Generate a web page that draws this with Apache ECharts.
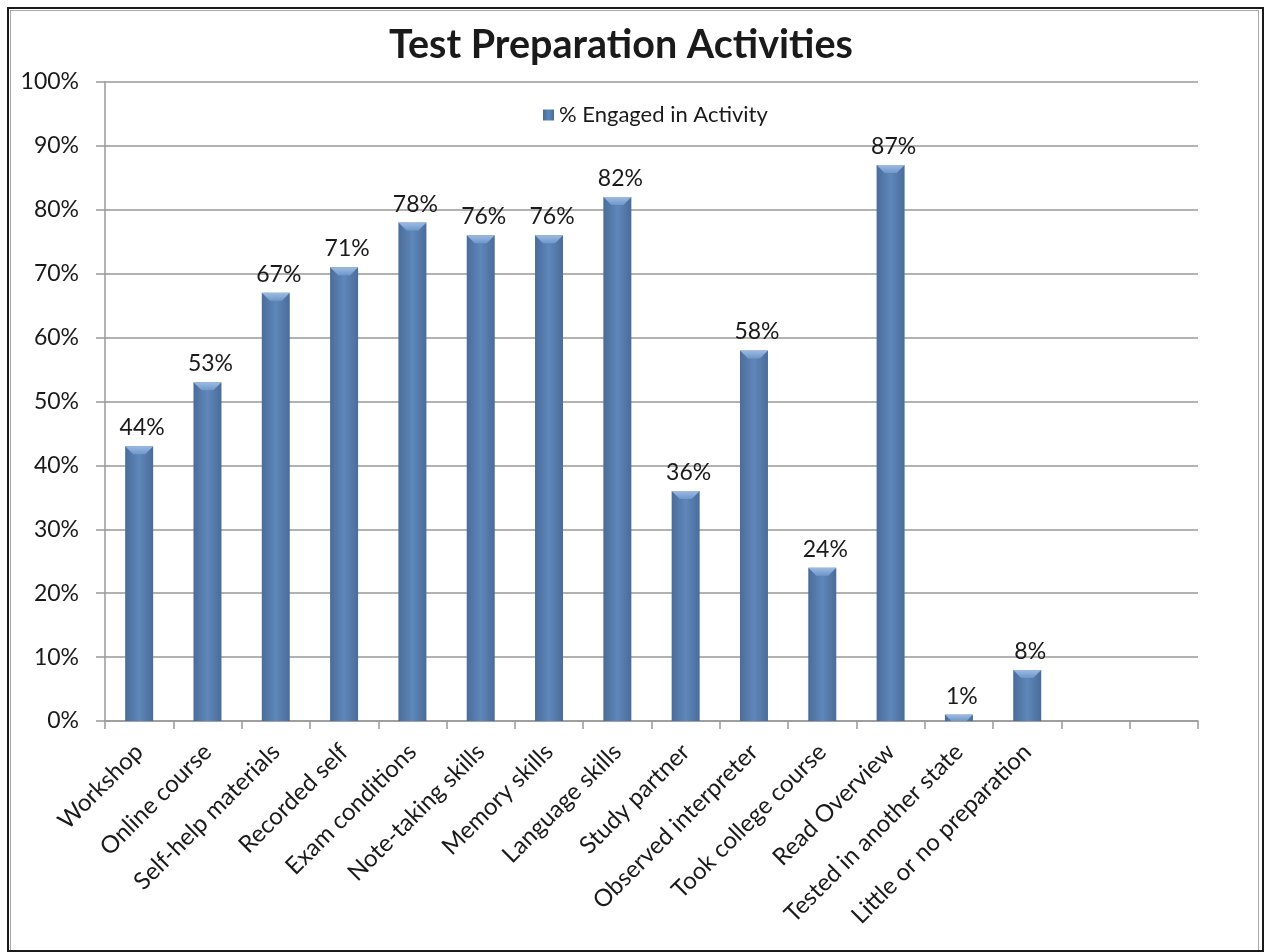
<!DOCTYPE html>
<html>
<head>
<meta charset="utf-8">
<script src="https://cdn.jsdelivr.net/npm/echarts@6/dist/echarts.min.js"></script>
<style>
html,body{margin:0;padding:0;background:#fff;}
#chart{position:absolute;left:0;top:0;width:1265px;height:952px;}
#frame{position:absolute;left:7px;top:7px;width:1253px;height:941px;border:2px solid #1a1a1a;pointer-events:none;}
#frame2{position:absolute;left:10px;top:10px;width:1247px;height:939px;border:1px solid #aaa;border-bottom:none;pointer-events:none;}
</style>
</head>
<body>
<div id="chart"></div>
<div id="frame"></div>
<div id="frame2"></div>
<script>
const categories = ['Workshop','Online course','Self-help materials','Recorded self','Exam conditions','Note-taking skills','Memory skills','Language skills','Study partner','Observed interpreter','Took college course','Read Overview','Tested in another state','Little or no preparation','',''];
const barValues = [43,53,67,71,78,76,76,82,36,58,24,87,1,8,null,null];
const labelTexts = ['44%','53%','67%','71%','78%','76%','76%','82%','36%','58%','24%','87%','1%','8%','',''];
const yTicks = [0,10,20,30,40,50,60,70,80,90,100];
const seriesName = '% Engaged in Activity';

const FONT = 'Lato, "Open Sans", sans-serif';
const BAR_W = 28;
const chart = echarts.init(document.getElementById('chart'), null, {renderer:'canvas'});
chart.setOption({
  animation:false,
  backgroundColor:'#fff',
  title:{text:'Test Preparation Activities',left:384,top:20,
    textStyle:{fontFamily:FONT,fontWeight:'bold',fontSize:39.5,color:'#1a1a1a'}},
  legend:{data:[{name:seriesName,icon:'rect'}],top:99,left:538,itemWidth:11,itemHeight:11,itemGap:5,
    textStyle:{fontFamily:FONT,fontSize:22,color:'#1a1a1a'}},
  grid:{left:105,right:67,top:82,bottom:231,containLabel:false},
  xAxis:{type:'category',data:categories,
    axisLine:{show:true,lineStyle:{color:'#999',width:1.5}},
    axisTick:{show:true,length:8,alignWithLabel:false,interval:0,lineStyle:{color:'#999',width:1.5}},
    axisLabel:{rotate:45,interval:0,margin:27,fontFamily:FONT,fontSize:24,color:'#1a1a1a'}},
  yAxis:{type:'value',min:0,max:100,interval:10,
    axisLine:{show:true,lineStyle:{color:'#999',width:1.5}},
    axisTick:{show:true,length:9,lineStyle:{color:'#999',width:1.5}},
    splitLine:{show:true,lineStyle:{color:'#999',width:1.5}},
    axisLabel:{margin:26,fontFamily:FONT,fontSize:23,color:'#1a1a1a',
      formatter:function(v){return yTicks.indexOf(v)>=0? v+'%':'';}}},
  series:[{name:seriesName,type:'bar',data:barValues,barWidth:BAR_W,
    itemStyle:{color:new echarts.graphic.LinearGradient(0,0,1,0,[
      {offset:0,color:'#4a6c99'},{offset:0.5,color:'#5f87ba'},{offset:1,color:'#4a6c99'}])},
    label:{show:true,position:'top',distance:7,offset:[3,0],fontFamily:FONT,fontSize:23,color:'#1a1a1a',
      formatter:function(p){return labelTexts[p.dataIndex];}}
  },{
    name:'bevel',type:'custom',silent:true,z:3,
    data:barValues.map(function(v,i){return [i,v];}),
    renderItem:function(params,api){
      const v=api.value(1);
      if(v===null||v===undefined||isNaN(v)) return;
      const top=api.coord([api.value(0),v]);
      const base=api.coord([api.value(0),0]);
      const h=Math.min(8,base[1]-top[1]);
      const x0=top[0]-BAR_W/2, x1=top[0]+BAR_W/2;
      return {type:'polygon',shape:{points:[[x0,top[1]],[x1,top[1]],[x1-h,top[1]+h],[x0+h,top[1]+h]]},
        style:{fill:new echarts.graphic.LinearGradient(0,0,0,1,[{offset:0,color:'#9dbbe3'},{offset:1,color:'#6e97ca'}])}};
    }
  }]
});
</script>
</body>
</html>
